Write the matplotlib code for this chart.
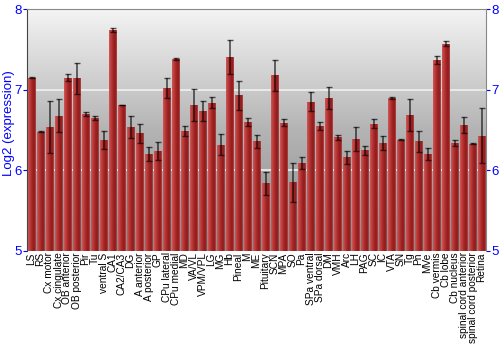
import matplotlib
matplotlib.use("Agg")
import matplotlib.pyplot as plt
import numpy as np
from matplotlib.colors import LinearSegmentedColormap

plt.rcParams['font.family'] = ['Liberation Sans', 'DejaVu Sans']

regions = ["LS", "RS", "Cx motor", "Cx cingulate", "OB anterior", "OB posterior",
           "Pir", "Tu", "ventral S", "CA1", "CA2/CA3", "DG", "A anterior",
           "A posterior", "GP", "CPu lateral", "CPu medial", "MD", "VA/VL",
           "VPM/VPL", "LG", "MG", "Hb", "Pineal", "M", "ME", "Pituitary", "SCN",
           "MPA", "SO", "Pa", "SPa ventral", "SPa dorsal", "DM", "VMH", "Arc",
           "LH", "PAG", "SC", "IC", "VTA", "SN", "Tg", "Pn", "MVe", "Cb vermis",
           "Cb lobe", "Cb nucleus", "spinal cord anterior",
           "spinal cord posterior", "Retina"]
expr = [7.15, 6.48, 6.54, 6.68, 7.15, 7.14, 6.70, 6.65, 6.38, 7.74, 6.81, 6.54,
        6.46, 6.20, 6.24, 7.02, 7.38, 6.49, 6.81, 6.74, 6.84, 6.32, 7.41, 6.93,
        6.60, 6.36, 5.84, 7.18, 6.59, 5.85, 6.09, 6.85, 6.55, 6.90, 6.41, 6.16,
        6.39, 6.25, 6.58, 6.34, 6.90, 6.38, 6.69, 6.36, 6.20, 7.37, 7.57, 6.34,
        6.56, 6.33, 6.43]
err = [0.005, 0.01, 0.32, 0.21, 0.04, 0.19, 0.027, 0.03, 0.11, 0.02, 0.005, 0.135,
       0.12, 0.09, 0.11, 0.124, 0.012, 0.066, 0.2, 0.124, 0.066, 0.136, 0.21, 0.18,
       0.047, 0.08, 0.14, 0.19, 0.045, 0.24, 0.076, 0.116, 0.045, 0.134, 0.03, 0.083,
       0.145, 0.054, 0.058, 0.083, 0.012, 0.004, 0.2, 0.13, 0.072, 0.047, 0.029, 0.041,
       0.097, 0.005, 0.34]

x = np.arange(len(regions))

fig = plt.figure(figsize=(5, 3.5), dpi=100)
ax = fig.add_axes([0.054, 0.283, 0.918, 0.691])
ax.set_xlim(-0.5, len(regions) - 0.5)
ax.set_ylim(5, 8)

# gray vertical gradient background
bg = LinearSegmentedColormap.from_list("bg", ["#8a8a8a", "#b4b4b4", "#f4f4f4"])
grad = np.linspace(0, 1, 256).reshape(-1, 1)
ax.imshow(grad, extent=[-0.5, len(regions) - 0.5, 5, 8], origin='lower',
          aspect='auto', cmap=bg, zorder=0)

for yv in [6, 7]:
    ax.axhline(yv, color='#f0f0f0', lw=1.2, zorder=1)

bars = ax.bar(x, expr, width=0.8, color='#b03030', edgecolor='#c86a6a',
              linewidth=0.4, zorder=2)
redmap = LinearSegmentedColormap.from_list(
    "red", ["#cc5a5a", "#c04040", "#b02e2e", "#9e2222", "#8c1a1a", "#b84848"])
hgrad = np.linspace(0, 1, 64).reshape(1, -1)
for b in bars:
    im = ax.imshow(hgrad, extent=[b.get_x(), b.get_x() + b.get_width(), 5, b.get_height()],
                   aspect='auto', cmap=redmap, zorder=2.5)
    im.set_clip_path(b)

ax.errorbar(x, expr, yerr=err, fmt='none', ecolor=(0, 0, 0, 0.65), elinewidth=1.2,
            capsize=2.2, capthick=1, zorder=3)

ax.set_xticks(x)
ax.set_xticklabels(regions, rotation=90, fontsize=7.3)
ax.tick_params(axis='x', length=0, pad=1)
ax.set_yticks([5, 6, 7, 8])
ax.tick_params(axis='y', colors='#0000ff', labelsize=9.5, length=3, width=0.8,
               left=True, right=True, labelleft=True, labelright=True, pad=1)
for t in ax.get_yticklines():
    t.set_color('#222222')
ax.set_ylabel("Log2 (expression)", color='#0000ff', fontsize=9.5)
ax.yaxis.set_label_coords(-0.026, 0.53)

for s in ['top', 'right']:
    ax.spines[s].set_color('#888888')
ax.spines['left'].set_color('#444444')
ax.spines['bottom'].set_visible(False)

fig.savefig("out.png", dpi=100)
